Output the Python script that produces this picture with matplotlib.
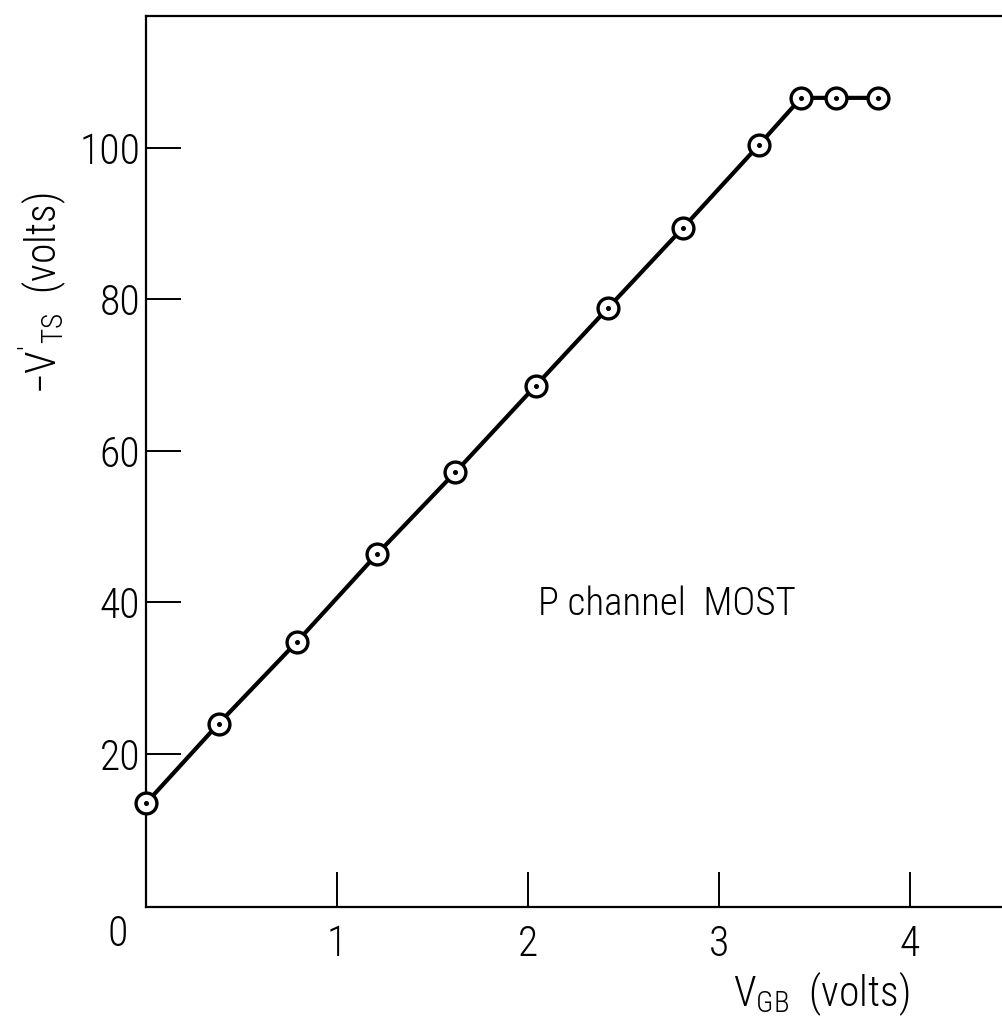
import matplotlib
matplotlib.use('Agg')
import matplotlib.pyplot as plt

plt.rcParams['font.family'] = ['Roboto Condensed', 'Archivo Narrow', 'PT Sans Narrow',
                               'Liberation Sans Narrow', 'Liberation Sans', 'DejaVu Sans']
plt.rcParams['font.weight'] = 'light'

# data
v_gb = [0.0, 0.38, 0.79, 1.21, 1.62, 2.04, 2.42, 2.81, 3.21, 3.43, 3.61, 3.83]
v_ts = [13.5, 24.0, 34.8, 46.4, 57.2, 68.6, 78.9, 89.4, 100.4, 106.6, 106.6, 106.6]

x_ticks = [1, 2, 3, 4]
y_ticks = [20, 40, 60, 80, 100]

fig = plt.figure(figsize=(10.03, 10.28), dpi=100)
ax = fig.add_axes([0.1456, 0.1177, 0.8544, 0.8667])

ax.plot(v_gb, v_ts, color='black', lw=3.0, marker='o', markersize=15,
        markerfacecolor='white', markeredgecolor='black', markeredgewidth=2.4,
        zorder=3, clip_on=False)
ax.plot(v_gb, v_ts, ls='none', marker='o', markersize=2.6, color='black',
        zorder=4, clip_on=False)

ax.set_xlim(0, 4.487)
ax.set_ylim(-0.2, 117.4)

ax.spines['right'].set_visible(False)
for s in ['left', 'bottom', 'top']:
    ax.spines[s].set_linewidth(1.6)

ax.set_xticks(x_ticks)
ax.set_xticklabels([str(t) for t in x_ticks])
ax.set_yticks(y_ticks)
ax.set_yticklabels([str(t) for t in y_ticks])
ax.tick_params(axis='both', direction='in', length=25, width=1.4, labelsize=30)
ax.tick_params(axis='x', pad=12)
ax.tick_params(axis='y', pad=4)

ax.text(-0.15, -3.8, '0', fontsize=30, ha='center', va='center', clip_on=False)

ax.text(2.05, 39.8, 'P channel  MOST', fontsize=28, ha='left', va='center')

fig.text(0.731, 0.021, r'$\mathregular{V_{GB}}$  (volts)', fontsize=30,
         ha='left', va='baseline')
fig.text(0.043, 0.715, r"$\mathregular{-V'_{TS}}$  (volts)", fontsize=30,
         rotation=90, ha='center', va='center')

fig.savefig('out.png', dpi=100)
